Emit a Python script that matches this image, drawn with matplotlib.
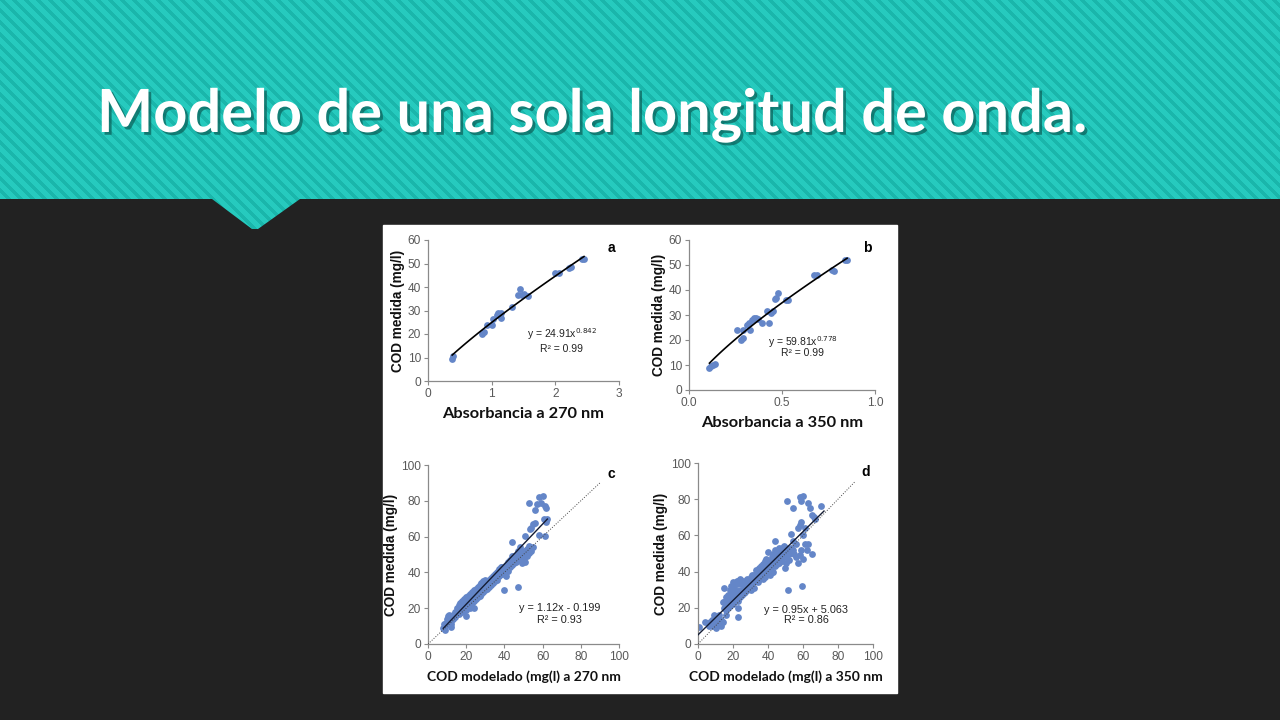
import numpy as np
import matplotlib.pyplot as plt
import matplotlib.patheffects as pe
from matplotlib.patches import Polygon, Rectangle


# Datos ---------------------------------------------------------------
TITLE = 'Modelo de una sola longitud de onda.'

a_x = [0.38, 0.40, 0.85, 0.88, 0.92, 1.00, 1.02, 1.08, 1.10, 1.12, 1.15, 1.15,
       1.32, 1.42, 1.45, 1.47, 1.50, 1.57, 2.00, 2.05, 2.22, 2.25, 2.42, 2.45]
a_y = [9.5, 10.5, 20, 21, 24, 24, 26.5, 28, 29, 28, 27, 29,
       31.5, 36.5, 39, 36.5, 37, 36, 46, 46, 48, 48.5, 52, 52]
a_fit = (24.91, 0.842)

b_x = [0.11, 0.12, 0.13, 0.14, 0.26, 0.28, 0.29, 0.29, 0.31, 0.32, 0.33, 0.34,
       0.35, 0.36, 0.37, 0.39, 0.42, 0.43, 0.44, 0.45, 0.46, 0.47, 0.48, 0.52,
       0.53, 0.67, 0.69, 0.77, 0.78, 0.84, 0.85]
b_y = [9, 9.5, 10, 10.5, 24, 20, 21, 24, 26, 27, 24, 28,
       29, 29, 28.5, 27, 31.5, 27, 31, 31.5, 36.5, 37, 39, 36,
       36, 46, 46, 48, 47.5, 52, 52]
b_fit = (59.81, 0.778)

c_points = [(8, 9), (8.5, 11), (9, 10), (9.5, 12), (10, 11), (10, 14), (10.5, 15.5),
            (11, 16), (11, 12), (11.5, 10.5), (12, 11), (12, 13), (12.5, 15), (13, 14),
            (15, 20), (16, 17), (16, 22), (17, 21), (17, 23), (18, 20), (18, 22), (18, 24),
            (19, 21), (19, 23), (19, 25), (19.7, 15.5), (20, 22), (20, 24), (20, 26),
            (21, 23), (21, 25), (21, 27), (22, 24), (22, 26), (22, 28), (23, 25), (23, 27),
            (23, 29), (24, 20), (24, 26), (24, 28), (24, 30), (25, 27), (25, 29), (25, 31),
            (26, 28), (26, 30), (26, 32), (27, 29), (27, 31), (27, 33), (28, 30), (28, 32),
            (28, 34), (29, 31), (29, 33), (29, 35), (30, 32), (30, 34), (30, 36), (31, 33),
            (31, 35), (32, 34), (32, 36), (33, 35), (33, 37), (34, 36), (34, 38), (35, 37),
            (35, 39), (36, 36), (36, 40), (37, 38), (37, 42), (38, 39), (38, 43), (39, 41),
            (40, 30.3), (40, 40), (40, 42), (41, 38), (41, 44), (42, 44), (42, 41), (43, 45),
            (43, 47), (44, 46), (44, 57), (45, 47), (45, 49), (46, 46), (46, 50), (47, 32),
            (47, 48), (47, 52), (48, 47), (48, 51), (48, 54), (49, 45), (49, 50), (50, 48),
            (50, 52), (51, 46), (51, 60.5), (52, 49), (52, 53), (53, 51), (53, 55),
            (53.5, 64), (54, 52), (54, 65), (55, 67), (56, 67.5), (56, 75), (53, 79),
            (57, 78), (58, 82), (58, 61), (59, 79), (60, 82.5), (60.5, 70), (61, 77),
            (61.5, 60.5), (62, 76), (62, 68), (62.5, 70),
            (14, 18), (15, 17), (16, 19), (17, 19), (18, 18), (19, 19), (20, 21), (21, 21),
            (22, 22), (23, 23), (24, 24), (25, 25), (26, 26), (27, 27), (28, 28), (29, 29),
            (30, 30), (31, 31), (32, 32), (33, 33), (34, 34), (36, 38), (38, 41), (39, 43),
            (41, 42), (43, 43), (44, 49), (45, 45), (46, 48), (48, 49), (49, 48), (50, 50),
            (52, 51), (53, 52), (55, 54), (44, 44), (42, 46), (41, 40), (39, 39), (37, 40),
            (35, 35), (20, 19), (22, 20), (13, 16), (14, 15), (9, 8), (12, 9.5)]
c_fit = (1.12, -0.199)
c_range = (8, 62.5)

d_points = [(0.5, 9.5), (4, 12), (6, 10), (7, 12), (8, 10), (9, 14), (9, 16), (10, 12),
            (10, 9), (11, 11), (12, 13), (12, 16), (13, 10), (14, 12), (14, 23), (15, 20),
            (15, 31), (16, 22), (16, 26), (17, 24), (17, 27), (18, 21), (18, 25), (18, 30),
            (19, 23), (19, 27), (19, 29), (20, 22), (20, 25), (20, 28), (20, 31), (21, 24),
            (21, 27), (21, 30), (22, 26), (22, 29), (22, 33), (23, 15), (23, 20), (23, 24),
            (23, 28), (23, 35), (24, 26), (24, 30), (24, 34), (25, 27), (25, 29), (25, 33),
            (26, 28), (26, 31), (27, 29), (27, 32), (28, 30), (28, 34), (29, 31), (29, 35),
            (30, 30), (30, 33), (31, 32), (31, 35), (32, 31), (32, 34), (33, 35), (33, 37),
            (34, 34), (34, 38), (35, 36), (35, 40), (36, 37), (36, 40), (37, 36), (37, 39),
            (38, 37), (38, 42), (39, 39), (39, 44), (40, 41), (40, 45), (40, 51), (41, 38),
            (41, 46), (42, 43), (42, 48), (43, 40), (43, 45), (43, 50), (44, 46), (44, 52),
            (44, 57), (45, 44), (45, 50), (46, 48), (46, 53), (47, 47), (47, 52), (48, 46),
            (48, 50), (49, 49), (49, 54), (49.5, 42), (50, 45), (50, 48), (51, 52),
            (51.5, 30), (52, 46.5), (52, 50), (53, 53), (53, 60.5), (54, 52), (54, 57),
            (54, 75), (51, 79), (55, 50), (56, 48), (56, 55), (57, 45), (57, 64), (58, 49),
            (58, 66), (58, 81), (59, 52), (59, 67.5), (59, 79), (59.5, 32), (60, 47),
            (60, 60), (60, 82), (61, 55), (61, 64), (62, 52), (63, 55), (63, 78), (64, 75),
            (65, 50), (65, 71), (66, 70), (67, 69), (70.5, 76.5),
            (15, 23), (16, 19), (17, 20), (18, 27), (19, 32), (20, 34), (21, 33), (22, 35),
            (24, 36), (25, 35), (26, 34), (27, 35), (28, 36), (29, 33), (30, 37), (31, 38),
            (32, 38), (33, 41), (34, 41), (35, 42), (36, 43), (37, 44), (38, 46), (39, 47),
            (41, 43), (42, 40), (44, 43), (46, 45), (47, 50), (48, 53), (50, 53), (12, 11),
            (11, 14), (13, 13), (8, 13), (10, 15), (16, 16)]
d_fit = (0.95, 5.063)
d_range = (0, 72)

DOT = '#6486c8'
TXT = '#595959'
FIT = '#141c33'


# Fondo de la diapositiva -----------------------------------------------
fig = plt.figure(figsize=(12.8, 7.2), dpi=100)
bg = fig.add_axes([0, 0, 1, 1])
bg.set_xlim(0, 1280)
bg.set_ylim(720, 0)
bg.axis('off')
bg.add_patch(Rectangle((0, 0), 1280, 720, color='#222222', zorder=0))

# cabecera rayada con la punta
yy, xx = np.mgrid[0:232, 0:1280]
stripes = ((xx - yy) % 12) < 5
img = np.zeros((232, 1280, 3))
img[:] = np.array([38, 202, 190]) / 255
img[stripes] = np.array([26, 182, 171]) / 255
head = Polygon([(0, 0), (1280, 0), (1280, 199), (300, 199), (258, 229),
                (252, 229), (212, 199), (0, 199)], closed=True,
               facecolor='none', edgecolor='none')
bg.add_patch(head)
im = bg.imshow(img, extent=[0, 1280, 232, 0], zorder=1, interpolation='nearest')
im.set_clip_path(head)
bg.set_xlim(0, 1280)
bg.set_ylim(720, 0)

title = bg.text(97, 132, TITLE, color='white', fontsize=39, fontweight='bold',
                family='Lato', va='baseline', ha='left', zorder=3,
                path_effects=[pe.SimplePatchShadow(offset=(2, -2),
                                                   shadow_rgbFace='#0b5e57',
                                                   alpha=0.7), pe.Normal()])
# ajustar el ancho del titulo (~988 px)
r = fig.canvas.get_renderer()
w = title.get_window_extent(renderer=r).width
title.set_fontsize(39 * 988 / w)

# panel blanco con las graficas
bg.add_patch(Rectangle((383, 225), 514, 468, color='white', zorder=2))


def px_axes(x0, y0, x1, y1):
    return fig.add_axes([x0 / 1280, 1 - y1 / 720, (x1 - x0) / 1280, (y1 - y0) / 720])


def style(ax, xlabel, ylabel, letter, xlab_font):
    for s in ['top', 'right']:
        ax.spines[s].set_visible(False)
    for s in ['left', 'bottom']:
        ax.spines[s].set_color('#8a8a8a')
        ax.spines[s].set_linewidth(0.9)
    ax.tick_params(direction='out', length=3, width=0.8, color='#8a8a8a',
                   labelsize=8.6, labelcolor=TXT, pad=2)
    for t in ax.get_xticklabels() + ax.get_yticklabels():
        t.set_family('Liberation Sans')
    ax.set_xlabel(xlabel, fontsize=xlab_font, fontweight='bold', family='Lato',
                  color='#111111', labelpad=5)
    ax.set_ylabel(ylabel, fontsize=9.8, fontweight='bold', family='Liberation Sans',
                  color='#111111', labelpad=2)
    ax.text(0.96, 0.99, letter, transform=ax.transAxes, fontsize=10,
            fontweight='bold', family='Liberation Sans', ha='center', va='top')
    ax.set_facecolor('white')


# grafica a
ax = px_axes(428, 240, 619, 381)
ax.scatter(a_x, a_y, s=24, color=DOT, zorder=2, linewidths=0)
xf = np.linspace(min(a_x), max(a_x), 60)
ax.plot(xf, a_fit[0] * xf ** a_fit[1], color='black', lw=1.2, zorder=3)
ax.set_xlim(0, 3)
ax.set_ylim(0, 60)
ax.set_xticks([0, 1, 2, 3])
ax.set_yticks(range(0, 61, 10))
style(ax, 'Absorbancia a 270 nm', 'COD medida (mg/l)', 'a', 11.8)
ax.text(0.70, 0.33, 'y = 24.91x$^{0.842}$', transform=ax.transAxes, fontsize=7.5,
        ha='center', va='center', color='#222222', family='Liberation Sans')
ax.text(0.70, 0.23, 'R² = 0.99', transform=ax.transAxes, fontsize=7.5,
        ha='center', va='center', color='#222222', family='Liberation Sans')

# grafica b
ax = px_axes(689, 240, 875, 390)
ax.scatter(b_x, b_y, s=24, color=DOT, zorder=2, linewidths=0)
xf = np.linspace(min(b_x), max(b_x), 60)
ax.plot(xf, b_fit[0] * xf ** b_fit[1], color='black', lw=1.2, zorder=3)
ax.set_xlim(0, 1)
ax.set_ylim(0, 60)
ax.set_xticks([0, 0.5, 1.0])
ax.set_xticklabels(['0.0', '0.5', '1.0'])
ax.set_yticks(range(0, 61, 10))
style(ax, 'Absorbancia a 350 nm', 'COD medida (mg/l)', 'b', 11.8)
ax.text(0.61, 0.32, 'y = 59.81x$^{0.778}$', transform=ax.transAxes, fontsize=7.5,
        ha='center', va='center', color='#222222', family='Liberation Sans')
ax.text(0.61, 0.25, 'R² = 0.99', transform=ax.transAxes, fontsize=7.5,
        ha='center', va='center', color='#222222', family='Liberation Sans')

# grafica c
cx = [p[0] for p in c_points]
cy = [p[1] for p in c_points]
ax = px_axes(428, 465, 619, 644)
ax.scatter(cx, cy, s=24, color=DOT, zorder=2, linewidths=0)
ax.plot([0, 90], [0, 90], color='#444444', lw=0.7, ls=':', zorder=3)
xf = np.array(c_range)
ax.plot(xf, c_fit[0] * xf + c_fit[1], color=FIT, lw=1.0, zorder=3)
ax.set_xlim(0, 100)
ax.set_ylim(0, 100)
ax.set_xticks(range(0, 101, 20))
ax.set_yticks(range(0, 101, 20))
style(ax, 'COD modelado (mg(l) a 270 nm', 'COD medida (mg/l)', 'c', 10)
ax.text(0.69, 0.20, 'y = 1.12x - 0.199', transform=ax.transAxes, fontsize=7.8,
        ha='center', va='center', color='#222222', family='Liberation Sans')
ax.text(0.69, 0.134, 'R² = 0.93', transform=ax.transAxes, fontsize=7.8,
        ha='center', va='center', color='#222222', family='Liberation Sans')

# grafica d
dx = [p[0] for p in d_points]
dy = [p[1] for p in d_points]
ax = px_axes(698, 463, 873, 644)
ax.scatter(dx, dy, s=24, color=DOT, zorder=2, linewidths=0)
ax.plot([0, 90], [0, 90], color='#444444', lw=0.7, ls=':', zorder=3)
xf = np.array(d_range)
ax.plot(xf, d_fit[0] * xf + d_fit[1], color=FIT, lw=1.0, zorder=3)
ax.set_xlim(0, 100)
ax.set_ylim(0, 100)
ax.set_xticks(range(0, 101, 20))
ax.set_yticks(range(0, 101, 20))
style(ax, 'COD modelado (mg(l) a 350 nm', 'COD medida (mg/l)', 'd', 10)
ax.text(0.62, 0.19, 'y = 0.95x + 5.063', transform=ax.transAxes, fontsize=7.8,
        ha='center', va='center', color='#222222', family='Liberation Sans')
ax.text(0.62, 0.13, 'R² = 0.86', transform=ax.transAxes, fontsize=7.8,
        ha='center', va='center', color='#222222', family='Liberation Sans')

plt.savefig('out.png', dpi=100)
